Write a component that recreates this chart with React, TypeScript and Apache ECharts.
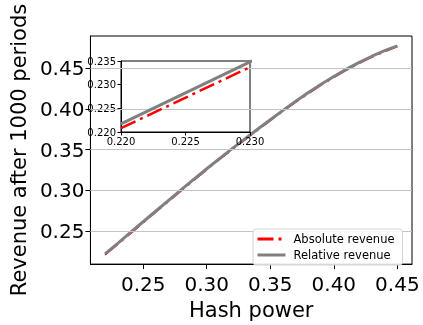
import React, { useEffect, useRef } from "react";
import * as echarts from "echarts";

const hashPower = [0.22, 0.23, 0.24, 0.25, 0.26, 0.27, 0.28, 0.29, 0.30, 0.31, 0.32, 0.33, 0.34, 0.35, 0.36, 0.37, 0.38, 0.39, 0.40, 0.41, 0.42, 0.43, 0.44, 0.45];
const absoluteRevenue = [0.2208, 0.2337, 0.2470, 0.2602, 0.2735, 0.2866, 0.2998, 0.3127, 0.3255, 0.3381, 0.3503, 0.3623, 0.3742, 0.3860, 0.3975, 0.4087, 0.4194, 0.4295, 0.4391, 0.4481, 0.4564, 0.4640, 0.4708, 0.4770];
const relativeRevenue = [0.2217, 0.2348, 0.2481, 0.2613, 0.2745, 0.2877, 0.3008, 0.3137, 0.3265, 0.3390, 0.3512, 0.3632, 0.3751, 0.3868, 0.3983, 0.4095, 0.4202, 0.4304, 0.4400, 0.4490, 0.4573, 0.4649, 0.4717, 0.4777];
const xTicks = [0.25, 0.3, 0.35, 0.4, 0.45];
const yTicks = [0.25, 0.3, 0.35, 0.4, 0.45];

const FONT = "DejaVu Sans";
const RED = "#ff0000";
const GRAY = "#808080";
const DASHDOT = [16, 5, 3, 5];

export default function App() {
  const ref = useRef<HTMLDivElement>(null);
  useEffect(() => {
    if (!ref.current) return;
    const chart = echarts.init(ref.current, undefined, { renderer: "svg" });
    const absData = hashPower.map((x, i) => [x, absoluteRevenue[i]]);
    const relData = hashPower.map((x, i) => [x, relativeRevenue[i]]);
    const axisBase = {
      axisLine: { show: true, onZero: false, lineStyle: { color: "#000", width: 1 } },
      splitLine: { show: false },
    };
    chart.setOption({
      animation: false,
      textStyle: { fontFamily: FONT },
      grid: [
        { left: 88, top: 36, width: 324, height: 239, show: true, borderColor: "#000", borderWidth: 1, backgroundColor: "transparent", z: 0 },
        { left: 121, top: 61, width: 129, height: 71, show: true, borderColor: "#000", borderWidth: 1, backgroundColor: "#fff", z: 3 },
      ],
      xAxis: [
        {
          ...axisBase,
          type: "value", gridIndex: 0, min: 0.2085, max: 0.4615,
          axisTick: { show: true, length: 5, inside: false, customValues: xTicks, lineStyle: { color: "#000" } },
          axisLabel: { customValues: xTicks, formatter: (v: number) => v.toFixed(2), fontSize: 20, color: "#000", margin: 10, fontFamily: FONT },
          name: "Hash power", nameLocation: "middle", nameGap: 31,
          nameTextStyle: { fontSize: 21, color: "#000", fontFamily: FONT, verticalAlign: "top" },
        },
        {
          ...axisBase,
          type: "value", gridIndex: 1, min: 0.22, max: 0.23, interval: 0.005, z: 4,
          axisTick: { show: true, length: 3.5, inside: false, lineStyle: { color: "#000" } },
          axisLabel: { formatter: (v: number) => v.toFixed(3), fontSize: 10, color: "#000", margin: 4, fontFamily: FONT, showMinLabel: true, showMaxLabel: true },
        },
      ],
      yAxis: [
        {
          ...axisBase,
          type: "value", gridIndex: 0, min: 0.2092, max: 0.4898,
          axisTick: { show: true, length: 5, inside: false, customValues: yTicks, lineStyle: { color: "#000" } },
          axisLabel: { customValues: yTicks, formatter: (v: number) => v.toFixed(2), fontSize: 20, color: "#000", margin: 6, fontFamily: FONT },
          name: "Revenue after 1000 periods", nameLocation: "middle", nameGap: 58,
          nameTextStyle: { fontSize: 21, color: "#000", fontFamily: FONT },
        },
        {
          ...axisBase,
          type: "value", gridIndex: 1, min: 0.22, max: 0.235, interval: 0.005, z: 4,
          axisTick: { show: true, length: 3.5, inside: false, lineStyle: { color: "#000" } },
          axisLabel: { formatter: (v: number) => v.toFixed(3), fontSize: 10, color: "#000", margin: 5, fontFamily: FONT, showMinLabel: true, showMaxLabel: true },
        },
      ],
      legend: {
        orient: "vertical",
        left: 253, top: 229,
        padding: [4, 8, 4, 3],
        itemWidth: 28, itemHeight: 12, itemGap: 4,
        data: ["Absolute revenue", "Relative revenue"],
        backgroundColor: "rgba(255,255,255,0.85)",
        borderColor: "#d5d5d5", borderWidth: 1, borderRadius: 3,
        itemStyle: { color: "transparent", borderWidth: 0, opacity: 0 },
        lineStyle: { width: 3 },
        textStyle: { fontSize: 11.5, color: "#000", fontFamily: FONT, padding: [0, 0, 0, 3] },
        z: 10,
      },
      series: [
        {
          name: "gridlines", type: "line", xAxisIndex: 0, yAxisIndex: 0, z: 1,
          data: relData, showSymbol: false, symbol: "none", silent: true,
          lineStyle: { opacity: 0 },
          markLine: {
            silent: true, symbol: "none", label: { show: false },
            lineStyle: { color: "#c4c4c4", width: 1, type: "solid" },
            data: yTicks.map((v) => ({ yAxis: v })),
          },
        },
        {
          name: "Absolute revenue", type: "line", xAxisIndex: 0, yAxisIndex: 0, z: 2,
          data: absData, symbol: "none", showSymbol: false,
          lineStyle: { color: RED, width: 2, type: DASHDOT },
          itemStyle: { color: RED },
        },
        {
          name: "Relative revenue", type: "line", xAxisIndex: 0, yAxisIndex: 0, z: 2,
          data: relData, symbol: "none", showSymbol: false,
          lineStyle: { color: GRAY, width: 3 },
          itemStyle: { color: GRAY },
        },
        {
          name: "Absolute revenue", type: "line", xAxisIndex: 1, yAxisIndex: 1, z: 5,
          data: absData, symbol: "none", showSymbol: false, clip: true,
          lineStyle: { color: RED, width: 2.5, type: DASHDOT },
          itemStyle: { color: RED },
        },
        {
          name: "Relative revenue", type: "line", xAxisIndex: 1, yAxisIndex: 1, z: 5,
          data: relData, symbol: "none", showSymbol: false, clip: true,
          lineStyle: { color: GRAY, width: 3 },
          itemStyle: { color: GRAY },
        },
      ],
    });
    return () => chart.dispose();
  }, []);
  return <div ref={ref} style={{ position: "fixed", left: 0, top: 0, width: 423, height: 325 }} />;
}
